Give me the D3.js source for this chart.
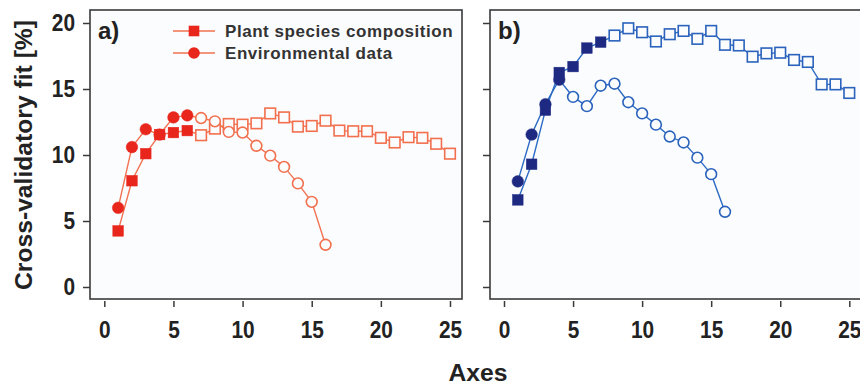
<!DOCTYPE html>
<html><head><meta charset="utf-8">
<script src="https://cdn.jsdelivr.net/npm/d3@7"></script>
<style>body{margin:0;background:#fff}svg{display:block}text{font-family:"Liberation Sans",Arial,sans-serif}</style>
</head><body><svg id="c" width="860" height="387"></svg>
<script>
const axesNum = d3.range(1, 26);
const xTicks = [0, 5, 10, 15, 20, 25];
const yTicks = [0, 5, 10, 15, 20];
// Panel a
const aPlant = [4.25,8.05,10.1,11.55,11.7,11.85,11.5,12.0,12.35,12.3,12.4,13.15,12.85,12.15,12.2,12.6,11.85,11.8,11.8,11.3,10.95,11.35,11.3,10.85,10.1];
const aEnv = [6.0,10.6,11.95,11.55,12.85,13.0,12.8,12.55,11.75,11.7,10.7,9.95,9.1,7.85,6.45,3.2];
const aPlantFilled = 6, aEnvFilled = 6;
// Panel b
const bPlant = [6.6,9.3,13.4,16.25,16.7,18.1,18.55,19.05,19.6,19.3,18.6,19.15,19.4,18.8,19.4,18.35,18.3,17.45,17.7,17.75,17.2,17.05,15.35,15.35,14.7];
const bEnv = [8.0,11.55,13.85,15.7,14.4,13.7,15.25,15.4,14.0,13.15,12.3,11.4,10.95,9.8,8.55,5.7];
const bPlantFilled = 7, bEnvFilled = 4;
const legendLabels = ["Plant species composition", "Environmental data"];

const svg = d3.select("#c");
const bg = "#fbfcfe";
const yScale = d3.scaleLinear().domain([0, 20]).range([287, 23]);

function styleTickText(sel) {
  sel.attr("font-size", 23).attr("font-weight", "bold").attr("fill", "#222")
    .attr("textLength", function () { return this.textContent.length * 11.6; })
    .attr("lengthAdjust", "spacingAndGlyphs");
}

function panel(opt) {
  const x = d3.scaleLinear().domain([0, 25]).range(opt.xr);
  const g = svg.append("g");
  g.append("rect").attr("x", opt.frame[0]).attr("y", 10).attr("width", opt.frame[1] - opt.frame[0]).attr("height", 289)
    .attr("fill", bg).attr("stroke", "#3a3a3a").attr("stroke-width", 1.6);
  const ya = d3.axisLeft(yScale).tickValues(yTicks).tickSize(7).tickPadding(8);
  const yg = g.append("g").attr("transform", `translate(${opt.frame[0]},0)`).call(ya);
  yg.select(".domain").remove();
  yg.selectAll("line").attr("stroke", "#3a3a3a").attr("stroke-width", 1.5);
  if (opt.yLabels) yg.selectAll("text").call(styleTickText);
  else yg.selectAll("text").remove();
  const xa = d3.axisBottom(x).tickValues(xTicks).tickSize(6).tickPadding(15);
  const xg = g.append("g").attr("transform", "translate(0,301)").call(xa);
  xg.select(".domain").remove();
  xg.selectAll("line").attr("stroke", "#3a3a3a").attr("stroke-width", 1.5);
  xg.selectAll("text").call(styleTickText);
  const line = d3.line().x((d, i) => x(i + 1)).y(d => yScale(d));
  [opt.plant, opt.env].forEach(data => {
    g.append("path").datum(data).attr("d", line).attr("fill", "none").attr("stroke", opt.lineCol).attr("stroke-width", 1.4);
  });
  [[opt.plant, "sq", opt.plantFilled], [opt.env, "ci", opt.envFilled]].forEach(([data, shape, nf]) => {
    data.forEach((v, i) => {
      const filled = i < nf;
      const cx = x(i + 1), cy = yScale(v);
      let m;
      if (shape === "sq") m = g.append("rect").attr("x", cx - 5.3).attr("y", cy - 5.3).attr("width", 10.6).attr("height", 10.6);
      else m = g.append("circle").attr("cx", cx).attr("cy", cy).attr("r", filled ? 5.8 : 5.4);
      if (filled) m.attr("fill", opt.fillCol).attr("stroke", opt.fillCol).attr("stroke-width", 0.5);
      else m.attr("fill", bg).attr("stroke", opt.openCol).attr("stroke-width", 1.6);
    });
  });
  g.append("text").attr("x", opt.frame[0] + 8).attr("y", 39).attr("font-size", 24).attr("font-weight", "bold").attr("fill", "#222").text(opt.label);
}

panel({xr: [104.3, 450], frame: [90, 462], yLabels: true, plant: aPlant, env: aEnv, plantFilled: aPlantFilled, envFilled: aEnvFilled,
  lineCol: "#f27252", fillCol: "#e8261c", openCol: "#f2704e", label: "a)"});
panel({xr: [504, 849.3], frame: [490, 862], yLabels: false, plant: bPlant, env: bEnv, plantFilled: bPlantFilled, envFilled: bEnvFilled,
  lineCol: "#2c6cc4", fillCol: "#1e2a82", openCol: "#2a62bc", label: "b)"});

const lg = svg.append("g");
legendLabels.forEach((t, i) => {
  const y = 31 + i * 22;
  lg.append("line").attr("x1", 173).attr("x2", 215).attr("y1", y).attr("y2", y).attr("stroke", "#f27252").attr("stroke-width", 1.6);
  if (i === 0) lg.append("rect").attr("x", 194 - 5.3).attr("y", y - 5.3).attr("width", 10.6).attr("height", 10.6).attr("fill", "#e8261c");
  else lg.append("circle").attr("cx", 194).attr("cy", y).attr("r", 5.8).attr("fill", "#e8261c");
  lg.append("text").attr("x", 225).attr("y", y + 6).attr("font-size", 17).attr("letter-spacing", 0.55)
    .attr("font-weight", "bold").attr("fill", "#333").text(t);
});

svg.append("text").attr("transform", "translate(32,155) rotate(-90)").attr("text-anchor", "middle")
  .attr("font-size", 24).attr("font-weight", "bold").attr("fill", "#222")
  .attr("textLength", 270).attr("lengthAdjust", "spacingAndGlyphs").text("Cross-validatory fit [%]");
svg.append("text").attr("x", 478).attr("y", 381).attr("text-anchor", "middle")
  .attr("font-size", 23).attr("font-weight", "bold").attr("fill", "#222")
  .attr("textLength", 59).attr("lengthAdjust", "spacingAndGlyphs").text("Axes");
</script></body></html>
